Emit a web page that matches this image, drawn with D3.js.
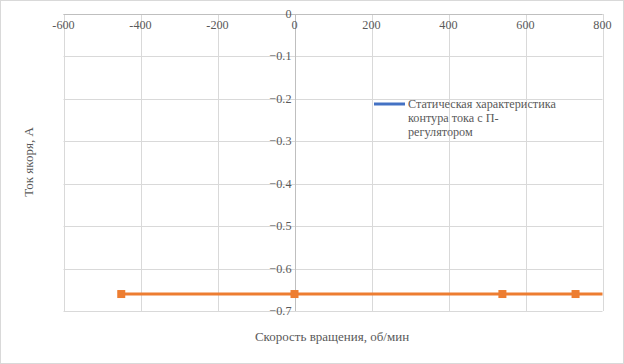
<!DOCTYPE html>
<meta charset="utf-8">
<script src="https://d3js.org/d3.v7.min.js"></script>
<style>
  body { margin: 0; background: #fff; }
</style>
<div id="chart"></div>
<script>
    // data
    const speed = [-450, 0, 540, 730, 800];       // об/мин
    const current = [-0.66, -0.66, -0.66, -0.66, -0.66]; // А
    const xTicks = [-600, -400, -200, 0, 200, 400, 600, 800];
    const yTicks = [0, -0.1, -0.2, -0.3, -0.4, -0.5, -0.6, -0.7];
    const seriesName = ["Статическая характеристика", "контура тока с П-", "регулятором"];

    const W = 624, H = 364;
    const margin = {top: 14, right: 22, bottom: 53, left: 63.5};
    const serif = "'Liberation Serif', 'Times New Roman', serif";

    const svg = d3.select("#chart").append("svg")
        .attr("width", W).attr("height", H)
        .attr("font-family", serif)
        .style("font-family", serif);

    // chart border
    svg.append("rect")
        .attr("x", 0.5).attr("y", 0.5)
        .attr("width", W - 1).attr("height", H - 1)
        .attr("fill", "#fff").attr("stroke", "#d9d9d9");

    const x = d3.scaleLinear().domain([-600, 800]).range([margin.left, 602.5]);
    const y = d3.scaleLinear().domain([-0.7, 0]).range([311, margin.top]);

    // grid
    svg.append("g").selectAll("line").data(xTicks).join("line")
        .attr("x1", d => Math.round(x(d)) + 0.5).attr("x2", d => Math.round(x(d)) + 0.5)
        .attr("y1", y(0)).attr("y2", y(-0.7))
        .attr("stroke", "#d9d9d9");
    svg.append("g").selectAll("line").data(yTicks).join("line")
        .attr("x1", x(-600)).attr("x2", x(800))
        .attr("y1", d => Math.round(y(d)) + 0.5).attr("y2", d => Math.round(y(d)) + 0.5)
        .attr("stroke", "#d9d9d9");

    // axis lines
    svg.append("line")
        .attr("x1", Math.round(x(0)) + 0.5).attr("x2", Math.round(x(0)) + 0.5)
        .attr("y1", y(0)).attr("y2", y(-0.7))
        .attr("stroke", "#bfbfbf");
    svg.append("line")
        .attr("x1", x(-600)).attr("x2", x(800))
        .attr("y1", Math.round(y(0)) + 0.5).attr("y2", Math.round(y(0)) + 0.5)
        .attr("stroke", "#bfbfbf");

    const txt = sel => sel.attr("font-family", serif).attr("fill", "#595959");

    // tick labels
    svg.append("g").selectAll("text").data(xTicks).join("text")
        .call(txt)
        .attr("x", d => x(d)).attr("y", 29)
        .attr("text-anchor", "middle")
        .attr("font-size", 12.2)
        .text(d => d);
    svg.append("g").selectAll("text").data(yTicks).join("text")
        .call(txt)
        .attr("x", x(0) - 3).attr("y", d => y(d) + 4)
        .attr("text-anchor", "end")
        .attr("font-size", 12.2)
        .text(d => d === 0 ? "0" : d3.format(".1f")(d));

    // axis titles
    svg.append("text")
        .call(txt)
        .attr("x", 332).attr("y", 341)
        .attr("text-anchor", "middle")
        .attr("font-size", 13)
        .text("Скорость вращения, об/мин");
    svg.append("text")
        .call(txt)
        .attr("transform", "translate(33,162)rotate(-90)")
        .attr("text-anchor", "middle")
        .attr("font-size", 13)
        .text("Ток якоря, А");

    // series
    const pts = speed.map((s, i) => [s, current[i]]);
    svg.append("path")
        .datum(pts)
        .attr("fill", "none")
        .attr("stroke", "#ed7d31")
        .attr("stroke-width", 3)
        .attr("d", d3.line().x(d => x(d[0])).y(d => y(d[1])));
    // markers (the last point is just the line end at the axis limit)
    svg.append("g").selectAll("rect").data(pts.slice(0, 4)).join("rect")
        .attr("x", d => x(d[0]) - 4).attr("y", d => y(d[1]) - 4)
        .attr("width", 8).attr("height", 8)
        .attr("fill", "#ed7d31");

    // legend
    svg.append("line")
        .attr("x1", 374).attr("x2", 405)
        .attr("y1", 104).attr("y2", 104)
        .attr("stroke", "#4472c4").attr("stroke-width", 3);
    svg.append("g").selectAll("text").data(seriesName).join("text")
        .call(txt)
        .attr("x", 408).attr("y", (d, i) => 108 + i * 14)
        .attr("font-size", 12.2)
        .text(d => d);
</script>
